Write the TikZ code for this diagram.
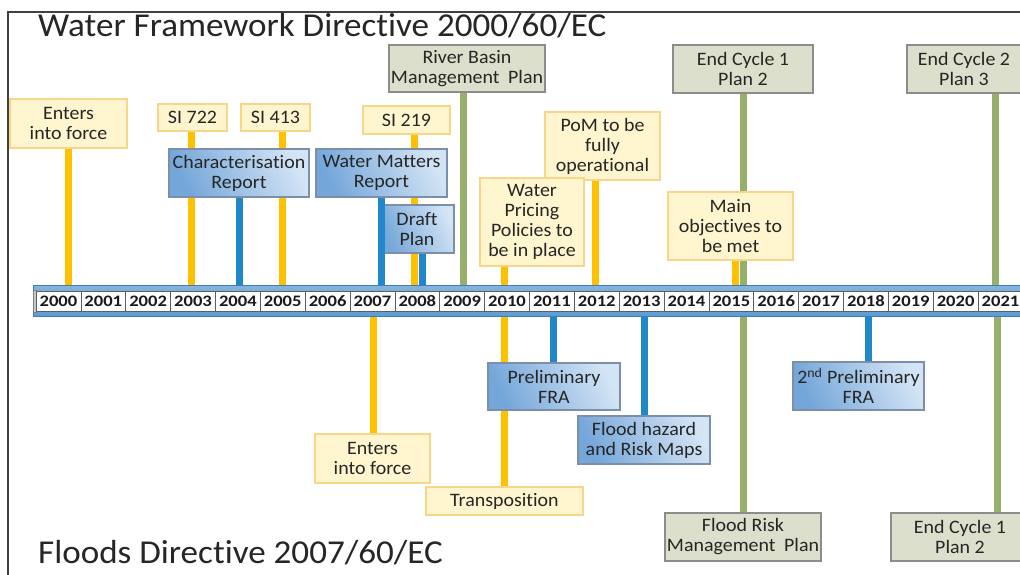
\documentclass[tikz,border=0pt]{standalone}
\usepackage{fontspec}
\setmainfont{Carlito}[FakeStretch=1.05, Ligatures=NoCommon]
\newfontfamily\yearfont{Carlito}[FakeStretch=1.16, Ligatures=NoCommon]
\definecolor{cyel}{HTML}{FFC000}
\definecolor{cblu}{HTML}{1F88C9}
\definecolor{cgrn}{HTML}{96B06C}
\definecolor{yfill}{HTML}{FFF5CE}
\definecolor{ydraw}{HTML}{F7D68A}
\definecolor{bdark}{HTML}{74A6D9}
\definecolor{blight}{HTML}{D3E4F5}
\definecolor{bdraw}{HTML}{7D8FA8}
\definecolor{gfill}{HTML}{DCDFCB}
\definecolor{gdraw}{HTML}{8C8C8C}
\definecolor{txt}{HTML}{262626}
\definecolor{barblue}{HTML}{5B9BD5}
\definecolor{barline}{HTML}{3F7DB8}
\definecolor{cellline}{HTML}{5E5E5E}
\definecolor{capgray}{HTML}{C8C8C8}
\definecolor{frame}{HTML}{404040}
\tikzset{
  box/.style={inner sep=0pt, align=center, text=txt, font=\fontsize{19}{20}\selectfont, line width=1.2pt},
  ybox/.style={box, fill=yfill, draw=ydraw},
  bbox/.style={box, draw=bdraw, left color=bdark, right color=blight, shading angle=115},
  gbox/.style={box, fill=gfill, draw=gdraw},
  conn/.style={line width=7pt},
  yc/.style={conn, draw=cyel},
  bc/.style={conn, draw=cblu},
  gc/.style={conn, draw=cgrn},
  yr/.style={inner sep=0pt, minimum width=44.86pt, minimum height=20pt, fill=white, draw=cellline, line width=0.6pt, font=\yearfont\fontsize{16}{16}\selectfont\bfseries, text=black!90},
  ttl/.style={inner sep=0pt, anchor=base west, text=black!85, font=\fontsize{33.4}{33.4}\selectfont}
}
\begin{document}
\begin{tikzpicture}[x=1pt,y=-1pt]
\path[use as bounding box] (0,0) rectangle (1020,574);
\clip (0,0) rectangle (1020,574);
\fill[white] (0,0) rectangle (1020,574);
\draw[frame, line width=1.2pt] (8,580) -- (8,12) -- (1030,12);

% titles
\node[ttl] (wfd) at (38,36) {Water Framework Directive 2000/60/EC};
\node[ttl] (fd) at (38,563) {Floods Directive 2007/60/EC};

% bar anchor coordinates (top side)
\foreach \n/\x in {e1/68, si722/191, si413/282, char/239, si219/414, wm/381, draft/422, rbmp/463, pom/595, wp/504, ec1/743, mo/735, ec2/995}
  \coordinate (t-\n) at (\x,286);
% bar anchor coordinates (bottom side)
\foreach \n/\x in {fe/373, tr/504, pfra/553, fhrm/644, frmp/743, pfrb/868, ec1b/997}
  \coordinate (b-\n) at (\x,315);

% top boxes
\node[ybox, minimum width=117pt, minimum height=49pt] (e1) at (68.5,123.5) {Enters\\into force};
\node[ybox, minimum width=69pt, minimum height=27pt] (si722) at (192.5,117.5) {SI 722};
\node[ybox, minimum width=69pt, minimum height=27pt] (si413) at (275.5,117.5) {SI 413};
\node[ybox, minimum width=87pt, minimum height=28pt] (si219) at (406.5,120) {SI 219};
\node[gbox, minimum width=156pt, minimum height=47pt] (rbmp) at (467,68.5) {River Basin\\Management\hspace{0.45em}Plan};
\node[gbox, minimum width=140pt, minimum height=48pt] (ec1) at (743,69) {End Cycle 1\\Plan 2};
\node[gbox, minimum width=114pt, minimum height=48pt] (ec2) at (964,69) {End Cycle 2\\Plan 3};
\node[ybox, minimum width=115pt, minimum height=68pt] (pom) at (602.5,146) {PoM to be\\fully\\operational};

% top connectors (behind other boxes)
\draw[yc] (t-e1 |- e1.south) -- (t-e1);
\draw[yc] (t-si722 |- si722.south) -- (t-si722);
\draw[yc] (t-si413 |- si413.south) -- (t-si413);
\draw[yc] (t-si219 |- si219.south) -- (t-si219);
\draw[gc] (t-rbmp |- rbmp.south) -- (t-rbmp);
\draw[gc] (t-ec1 |- ec1.south) -- (t-ec1);
\draw[gc] (t-ec2 |- ec2.south) -- (t-ec2);
\draw[yc] (t-pom |- pom.south) -- (t-pom);

% middle top boxes
\node[bbox, minimum width=140pt, minimum height=48pt] (char) at (239,173) {Characterisation\\Report};
\node[bbox, minimum width=131pt, minimum height=48pt] (wm) at (381.5,173) {Water Matters\\Report};
\node[bbox, minimum width=74pt, minimum height=48pt] (draft) at (417,229) {Draft\\Plan};
\node[ybox, minimum width=104pt, minimum height=88pt] (wp) at (532,222) {Water\\Pricing\\Policies to\\be in place};
\node[ybox, minimum width=125pt, minimum height=68pt] (mo) at (730.5,226) {Main\\objectives to\\be met};

\draw[bc] (t-char |- char.south) -- (t-char);
\draw[bc] (t-wm |- wm.south) -- (t-wm);
\draw[bc] (t-draft |- draft.south) -- (t-draft);
\draw[yc] (t-wp |- wp.south) -- (t-wp);
\draw[yc] (t-mo |- mo.south) -- (t-mo);

% bottom boxes
\node[ybox, minimum width=115pt, minimum height=49pt] (fe) at (372.5,458.5) {Enters\\into force};
\node[ybox, minimum width=157pt, minimum height=28pt] (tr) at (504.5,501) {Transposition};
\node[gbox, minimum width=156pt, minimum height=48pt] (frmp) at (743,537) {Flood Risk\\Management\hspace{0.45em}Plan};
\node[gbox, minimum width=138pt, minimum height=48pt] (ec1b) at (960,537) {End Cycle 1\\Plan 2};

\draw[yc] (b-fe) -- (b-fe |- fe.north);
\draw[yc] (b-tr) -- (b-tr |- tr.north);
\draw[gc] (b-frmp) -- (b-frmp |- frmp.north);
\draw[gc] (b-ec1b) -- (b-ec1b |- ec1b.north);

\node[bbox, minimum width=132pt, minimum height=47pt] (pfra) at (554,386.5) {Preliminary\\FRA};
\node[bbox, minimum width=132pt, minimum height=48pt] (fhrm) at (644,440) {Flood hazard\\and Risk Maps};
\node[bbox, minimum width=131pt, minimum height=48pt] (pfrb) at (858.5,386) {2\textsuperscript{nd} Preliminary\\FRA};

\draw[bc] (b-pfra) -- (b-pfra |- pfra.north);
\draw[bc] (b-fhrm) -- (b-fhrm |- fhrm.north);
\draw[bc] (b-pfrb) -- (b-pfrb |- pfrb.north);

% timeline bar
\node[inner sep=0pt, minimum width=995pt, minimum height=31pt, draw=barline, line width=0.8pt, top color=barblue!75, bottom color=barblue, anchor=north west] (bar) at (33,285) {};
\node[inner sep=0pt, minimum width=3pt, minimum height=22pt, fill=capgray, draw=gray, line width=0.4pt] (cap) at (34.5,301.3) {};
\foreach \i in {0,...,21}{
  \pgfmathtruncatemacro{\yy}{2000+\i}
  \node[yr] (y\yy) at ({58.43+44.86*\i},301.3) {\yy};
}
\end{tikzpicture}
\end{document}
